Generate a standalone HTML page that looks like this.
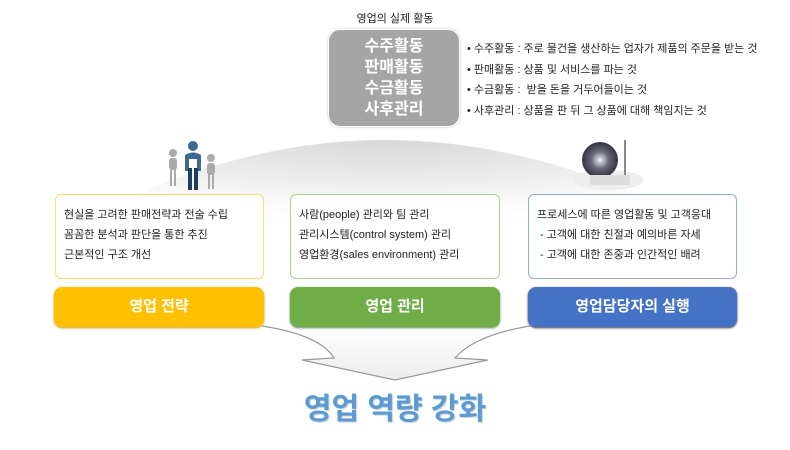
<!DOCTYPE html>
<html><head><meta charset="utf-8"><style>
body{margin:0;width:790px;height:450px;background:#fff;position:relative;overflow:hidden;font-family:"Liberation Sans","Noto Sans CJK KR",sans-serif;}
.a{position:absolute}
.tb{position:absolute;background:#fff;border-radius:6px;font-size:11px;color:#222;line-height:20px;padding:10px 0 0 8px;box-sizing:border-box}
.lb{position:absolute;border-radius:8px;color:#fff;font-weight:bold;font-size:15px;text-align:center;line-height:40px;height:40px}
</style></head><body>
<svg class="a" style="left:0;top:0" width="790" height="450">
<defs>
<radialGradient id="d" cx="0.5" cy="0" r="0.75">
<stop offset="0" stop-color="#d8d8d8"/><stop offset="0.5" stop-color="#eeeeee"/><stop offset="1" stop-color="#fff" stop-opacity="0"/></radialGradient>
<linearGradient id="ar" x1="0" y1="0" x2="0" y2="1"><stop offset="0" stop-color="#fff"/><stop offset="1" stop-color="#ececec"/></linearGradient>
<radialGradient id="g" cx="0.5" cy="0.5" r="0.5"><stop offset="0" stop-color="#eef" /><stop offset="0.5" stop-color="#667"/><stop offset="1" stop-color="#334"/></radialGradient>
</defs>
<path d="M20 260 Q 380 20 760 260 Z" fill="url(#d)"/>
<path d="M262 326 Q320 335 334 358 L302 360 L395 380 L488 360 L455 358 Q475 335 530 326 Z" fill="url(#ar)"/>
<path d="M262 326 Q320 335 334 358 L302 360 L395 380 L488 360 L455 358 Q475 335 530 326" fill="none" stroke="#999" stroke-width="1.2"/>
<g fill="#aaa"><circle cx="173" cy="153" r="4"/><rect x="169" y="158" width="8" height="12" rx="3"/><rect x="170" y="168" width="2" height="18"/><rect x="174" y="168" width="2" height="18"/>
<circle cx="211" cy="158" r="4"/><rect x="207" y="163" width="8" height="12" rx="3"/><rect x="208" y="173" width="2" height="16"/><rect x="212" y="173" width="2" height="16"/></g>
<g fill="#3d6a94"><circle cx="193" cy="146" r="5"/><path d="M185 155 q8-5 16 0 v16 h-4 v-12 h-8 v12 h-4z"/><rect x="188" y="168" width="4" height="22" fill="#1f3f5f"/><rect x="194" y="168" width="4" height="22" fill="#1f3f5f"/></g>
<ellipse cx="608" cy="180" rx="35" ry="10" fill="#eee"/>
<circle cx="600" cy="160" r="18" fill="url(#g)"/>
<rect x="624" y="140" width="2" height="40" fill="#888"/>
<rect x="590" y="175" width="40" height="10" fill="#ddd"/>
</svg>
<div class="a" style="left:350px;top:10px;width:90px;text-align:center;font-size:11px;color:#222">영업의 실제 활동</div>
<div class="a" style="left:328px;top:29px;width:132px;height:98px;background:#a5a5a5;border:1.5px solid #fff;border-radius:12px;box-shadow:0 0 2px #bbb;color:#fff;font-weight:bold;font-size:16px;text-align:center;line-height:21px;padding-top:6px;box-sizing:border-box">수주활동<br>판매활동<br>수금활동<br>사후관리</div>
<div class="a" style="left:467px;top:39px;font-size:11px;color:#222;line-height:20.5px">• 수주활동 : 주로 물건을 생산하는 업자가 제품의 주문을 받는 것<br>• 판매활동 : 상품 및 서비스를 파는 것<br>• 수금활동 :&nbsp; 받을 돈을 거두어들이는 것<br>• 사후관리 : 상품을 판 뒤 그 상품에 대해 책임지는 것</div>
<div class="tb" style="left:55px;top:194px;width:209px;height:85px;border:1.5px solid #ffd966">현실을 고려한 판매전략과 전술 수립<br>꼼꼼한 분석과 판단을 통한 추진<br>근본적인 구조 개선</div>
<div class="tb" style="left:290px;top:194px;width:210px;height:85px;border:1.5px solid #a9d18e">사람(people) 관리와 팀 관리<br>관리시스템(control system) 관리<br>영업환경(sales environment) 관리</div>
<div class="tb" style="left:528px;top:194px;width:209px;height:85px;border:1.5px solid #8faadc">프로세스에 따른 영업활동 및 고객응대<br>&nbsp;- 고객에 대한 친절과 예의바른 자세<br>&nbsp;- 고객에 대한 존중과 인간적인 배려</div>
<div class="lb" style="left:54px;top:287px;width:210px;background:#ffc000;box-shadow:0 1px 2px #c90">영업 전략</div>
<div class="lb" style="left:290px;top:287px;width:210px;background:#70ad47;box-shadow:0 1px 2px #585">영업 관리</div>
<div class="lb" style="left:528px;top:287px;width:209px;background:#4472c4;box-shadow:0 1px 2px #335">영업담당자의 실행</div>
<div class="a" style="left:250px;top:384px;width:290px;text-align:center;font-size:30px;font-weight:bold;color:#5b9bd5;text-shadow:1px 1px 1px #ccc">영업 역량 강화</div>
</body></html>
